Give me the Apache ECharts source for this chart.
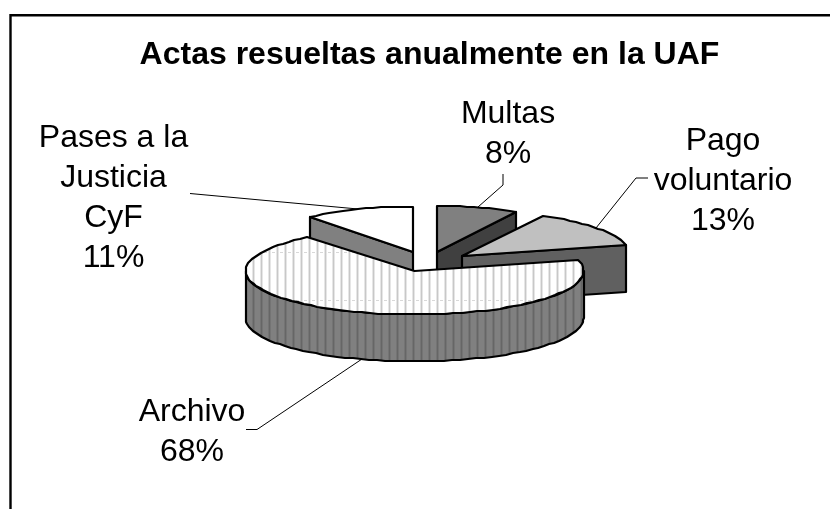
<!DOCTYPE html>
<html>
<head>
<meta charset="utf-8">
<style>html,body{margin:0;padding:0;background:#fff}#c{width:830px;height:509px}</style>
<script src="https://cdn.jsdelivr.net/npm/echarts@6/dist/echarts.min.js"></script>
</head>
<body>
<div id="c"></div>
<script>
// Data
const titleText = 'Actas resueltas anualmente en la UAF';
const categories = ['Multas', 'Pago\nvoluntario', 'Archivo', 'Pases a la\nJusticia\nCyF'];
const percents = [8, 13, 68, 11];

// Layout and style (separate from the data)
const FONT = '"Liberation Sans", Arial, sans-serif';
const sliceOrigin = [[437, 252], [462, 256], [414.5, 271], [413, 252]];
const RX = [165, 169, 169, 162], RY = [46, 46, 43.5, 45.5], DEPTH = 47;
const topFill = ['#808080', '#c0c0c0', 'STRIPE_TOP', '#ffffff'];
const wallFill = ['#404040', '#606060', 'STRIPE_WALL', '#808080'];
const order = [1, 2, 4, 3];
const labelPos = [[508, 134], [723, 181], [192, 432.5], [113.5, 198]];
const leaderElbow = [
  [[503, 185], [503, 174]],
  [[636, 178], [648, 178]],
  [[257, 429.5], [246, 429.5]],
  [[190, 193.5]]
];

function stripes(bg, edgeCol, core, soft) {
  const c = document.createElement('canvas');
  c.width = 8; c.height = 48;
  const g = c.getContext('2d');
  g.fillStyle = bg; g.fillRect(0, 0, 8, 48);
  g.fillStyle = edgeCol; g.fillRect(4, 0, 3, 48);
  g.fillStyle = core; g.fillRect(5, 0, 1, 48);
  if (soft) { g.fillStyle = soft; g.fillRect(0, 12, 3, 1); }
  return c;
}
const patterns = {
  STRIPE_TOP: { image: stripes('#ffffff', '#e6e6e6', '#c8c8c8', '#d8d8d8'), repeat: 'repeat' },
  STRIPE_WALL: { image: stripes('#808080', '#747474', '#666666'), repeat: 'repeat' }
};
const paint = f => patterns[f] || f;

const total = percents.reduce((a, b) => a + b, 0);
const starts = [];
percents.reduce((acc, v, i) => { starts[i] = acc; return acc + v; }, 0);
const toAngle = p => p / total * Math.PI * 2;

function rim(i, a, dy) {
  return [
    Math.round(sliceOrigin[i][0] + RX[i] * Math.sin(a)),
    Math.round(sliceOrigin[i][1] - RY[i] * Math.cos(a) + (dy || 0))
  ];
}
function arc(i, a0, a1, dy) {
  const pts = [], n = Math.max(2, Math.ceil(Math.abs(a1 - a0) / 0.05));
  for (let k = 0; k <= n; k++) pts.push(rim(i, a0 + (a1 - a0) * k / n, dy));
  return pts;
}
const edge = { stroke: '#000', lineWidth: 2.2, lineJoin: 'round' };

function renderItem(params, api) {
  const i = params.dataIndex;
  const value = api.value(0);
  const a0 = toAngle(starts[i]);
  const a1 = toAngle(starts[i] + value);
  const O = sliceOrigin[i];
  const z = order[i] * 10;
  const kids = [];

  // outer wall, only where the rim faces the viewer
  const w0 = Math.max(a0, Math.PI / 2), w1 = Math.min(a1, Math.PI * 1.5);
  if (w1 > w0) {
    const front = arc(i, w0, w1, 0);
    const back = arc(i, w1, w0, DEPTH);
    kids.push({ type: 'polygon', z2: z, shape: { points: front.concat(back) },
      style: Object.assign({ fill: paint(wallFill[i]) }, edge) });
  }
  // cut faces that look towards the viewer
  [a0, a1].forEach(function (a, n) {
    const s = Math.sin(a);
    const visible = n === 1 ? (a < Math.PI && s > 0.01) : (a > Math.PI && a < Math.PI * 2 && s < -0.01);
    if (!visible) return;
    const p = rim(i, a, 0);
    kids.push({ type: 'polygon', z2: z + 1, shape: { points: [O, p, [p[0], p[1] + DEPTH], [O[0], O[1] + DEPTH]] },
      style: Object.assign({ fill: wallFill[i] === 'STRIPE_WALL' ? '#808080' : wallFill[i] }, edge) });
  });
  // top face
  kids.push({ type: 'polygon', z2: z + 2, shape: { points: [O].concat(arc(i, a0, a1, 0)) },
    style: Object.assign({ fill: paint(topFill[i]) }, edge) });

  // leader line and label
  const mid = (a0 + a1) / 2;
  const anchor = rim(i, mid, (mid > Math.PI / 2 && mid < Math.PI * 1.5) ? DEPTH : 0);
  kids.push({ type: 'polyline', z2: 100, shape: { points: [anchor].concat(leaderElbow[i]) },
    style: { stroke: '#000', lineWidth: 1, fill: 'none' } });
  kids.push({ type: 'text', z2: 101, style: {
    x: labelPos[i][0], y: labelPos[i][1],
    text: api.value(1) ? categories[i] + '\n' + value + '%' : '',
    align: 'center', verticalAlign: 'middle',
    font: '32px ' + FONT, lineHeight: 40, fill: '#000'
  } });
  return { type: 'group', children: kids };
}

const chart = echarts.init(document.getElementById('c'), null, { renderer: 'canvas' });
chart.setOption({
  animation: false,
  backgroundColor: '#fff',
  title: {
    text: titleText, left: 424.5, top: 34, textAlign: 'center',
    textStyle: { fontFamily: FONT, fontWeight: 'bold', fontSize: 32, color: '#000' }
  },
  graphic: [{ type: 'rect', silent: true, shape: { x: 10.5, y: 15.3, width: 900, height: 600 },
    style: { fill: 'none', stroke: '#000', lineWidth: 2.4 } }],
  series: [{
    type: 'custom', coordinateSystem: 'none', renderItem: renderItem,
    data: percents.map(function (v) { return [v, 1]; })
  }]
});
</script>
</body>
</html>
